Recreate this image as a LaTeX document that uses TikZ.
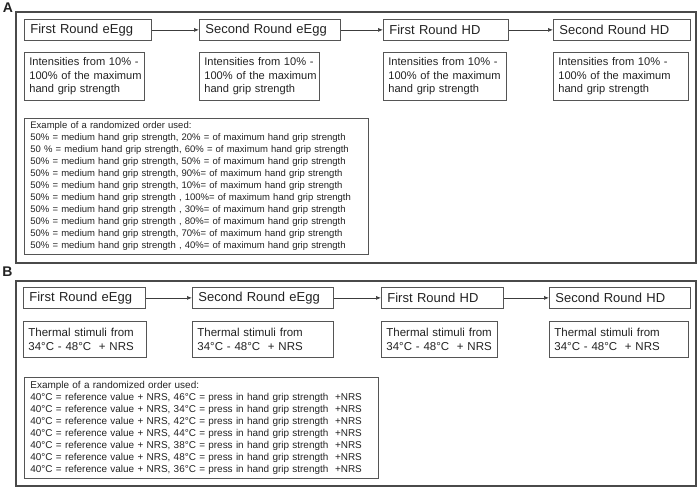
\documentclass[tikz,border=0pt]{standalone}
\usepackage{fontspec}
\setmainfont{Liberation Sans}
\usepackage{xcolor}
\usepackage{tikz}
\usetikzlibrary{arrows.meta}
\definecolor{txt}{HTML}{222222}
\definecolor{boxline}{HTML}{555555}
\definecolor{frameline}{HTML}{4A4A4A}

\begin{document}
\begin{tikzpicture}[x=1pt, y=-1pt, semithick, every node/.style={text=txt}]
  \tikzstyle{panel}=[draw=frameline, line width=1.6pt]
  \tikzstyle{box}=[draw=boxline, line width=0.8pt, anchor=north west, inner xsep=6pt, inner ysep=0pt, align=left]
  \tikzstyle{head}=[box, minimum height=21pt, font=\fontsize{13}{15}\selectfont]
  \tikzstyle{note}=[box, inner xsep=5pt]
  \tikzstyle{lab}=[font=\fontsize{14}{16}\selectfont\bfseries, inner sep=0pt]
  \tikzstyle{flow}=[draw=boxline!70!black, line width=0.7pt, -{Latex[length=5pt,width=4pt]}]
\useasboundingbox (0,0) rectangle (699,489);

% panel A
\draw[panel] (16,12) rectangle (696,263);
\node[lab] (labA) at (8,8) {A};
\foreach \i/\x/\w/\t in {1/24/115pt/First Round eEgg, 2/199/129pt/Second Round eEgg,
    3/383/113pt/First Round HD, 4/553/125pt/Second Round HD}
  \node[head, text width=\w] (ha\i) at (\x,19) {\t};
\foreach \i/\x/\w in {1/24/110pt, 2/199/110pt, 3/383/113pt, 4/553/125pt}
  \node[note, text width=\w, minimum height=48pt, font=\fontsize{11.1}{13.3}\selectfont] (ia\i) at (\x,52)
    {\mbox{Intensities from 10\% -}\\\mbox{100\% of the maximum}\\\mbox{hand grip strength}};
\foreach \i/\j in {1/2,2/3,3/4}
  \draw[flow] (ha\i) -- (ha\j);
\node[box, text width=332pt, minimum height=136pt, font=\fontsize{9.5}{12}\selectfont] (exA) at (24,118)
  {Example of a randomized order used:\\
   50\% = medium hand grip strength, 20\% = of maximum hand grip strength\\
   50 \% = medium hand grip strength, 60\% = of maximum hand grip strength\\
   50\% = medium hand grip strength, 50\% = of maximum hand grip strength\\
   50\% = medium hand grip strength, 90\%= of maximum hand grip strength\\
   50\% = medium hand grip strength, 10\%= of maximum hand grip strength\\
   50\% = medium hand grip strength , 100\%= of maximum hand grip strength\\
   50\% = medium hand grip strength , 30\%= of maximum hand grip strength\\
   50\% = medium hand grip strength , 80\%= of maximum hand grip strength\\
   50\% = medium hand grip strength, 70\%= of maximum hand grip strength\\
   50\% = medium hand grip strength , 40\%= of maximum hand grip strength};

% panel B
\draw[panel] (16,281) rectangle (696,486);
\node[lab] (labB) at (7.5,272) {B};
\foreach \i/\x/\w/\t in {1/23/110pt/First Round eEgg, 2/192/129pt/Second Round eEgg,
    3/381/110pt/First Round HD, 4/549/129pt/Second Round HD}
  \node[head, text width=\w] (hb\i) at (\x,287) {\t};
\foreach \i/\x/\w in {1/23/113pt, 2/192/131pt, 3/381/106pt, 4/549/129pt}
  \node[note, text width=\w, minimum height=36pt, font=\fontsize{11.5}{14.5}\selectfont] (tb\i) at (\x,321)
    {\mbox{Thermal stimuli from}\\\mbox{34°C - 48°C~ + NRS}};
\foreach \i/\j in {1/2,2/3,3/4}
  \draw[flow] (hb\i) -- (hb\j);
\node[box, text width=342pt, minimum height=101pt, font=\fontsize{9.95}{12}\selectfont] (exB) at (24,377)
  {Example of a randomized order used:\\
   40°C = reference value + NRS, 46°C = press in hand grip strength~ +NRS\\
   40°C = reference value + NRS, 34°C = press in hand grip strength~ +NRS\\
   40°C = reference value + NRS, 42°C = press in hand grip strength~ +NRS\\
   40°C = reference value + NRS, 44°C = press in hand grip strength~ +NRS\\
   40°C = reference value + NRS, 38°C = press in hand grip strength~ +NRS\\
   40°C = reference value + NRS, 48°C = press in hand grip strength~ +NRS\\
   40°C = reference value + NRS, 36°C = press in hand grip strength~ +NRS};
\end{tikzpicture}
\end{document}
